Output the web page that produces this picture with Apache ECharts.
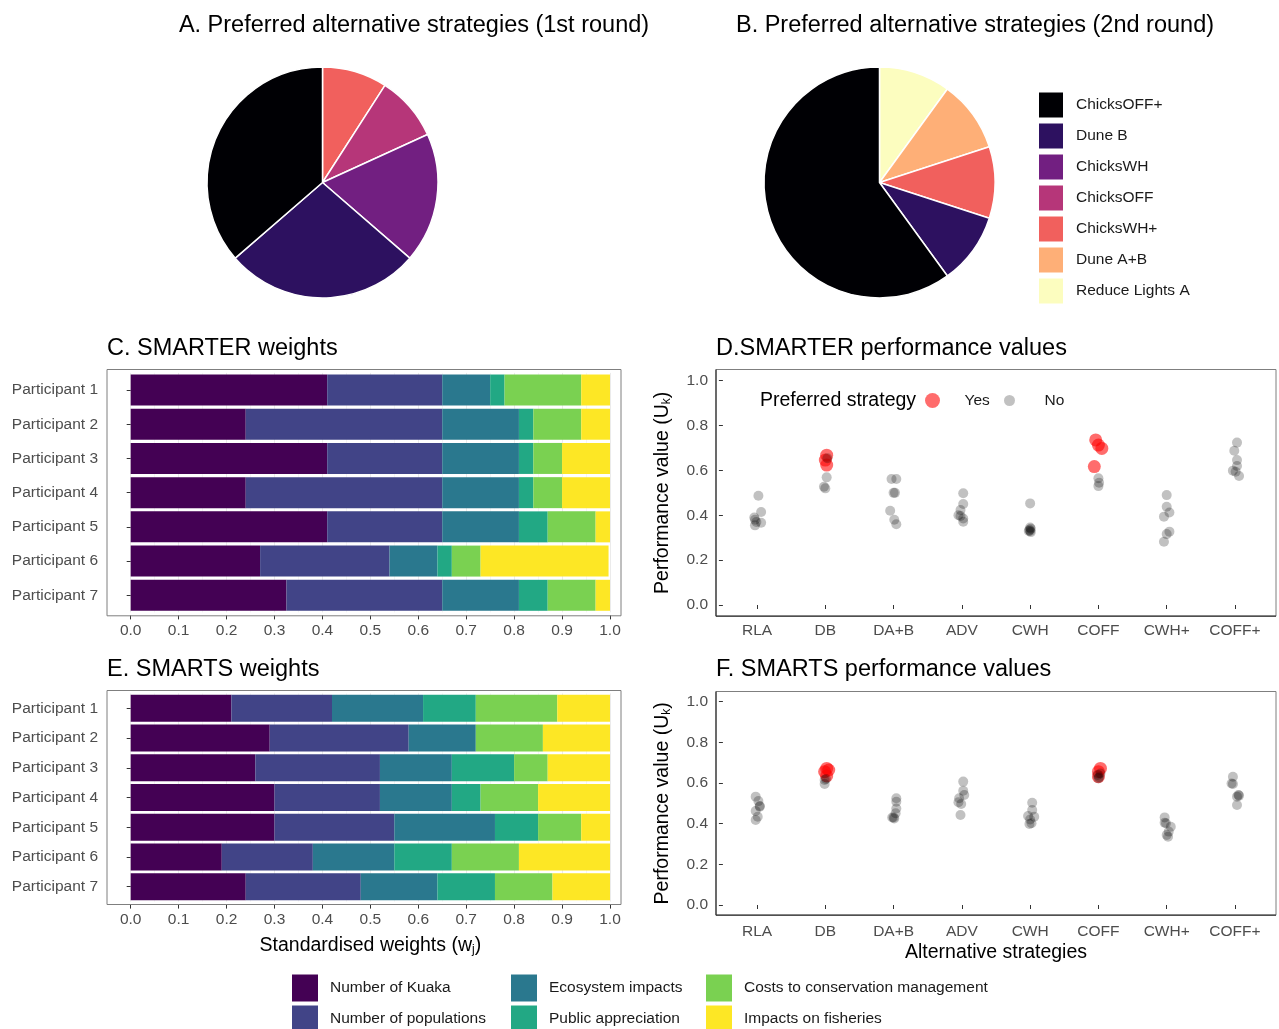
<!DOCTYPE html>
<html><head><meta charset="utf-8">
<script src="https://cdn.jsdelivr.net/npm/echarts@6/dist/echarts.min.js"></script>
<style>html,body{margin:0;padding:0;background:#fff}#c{width:1279px;height:1029px}</style>
</head><body><div id="c"></div>
<script>
// ---------- DATA ----------
const strategies = ['ChicksOFF+','Dune B','ChicksWH','ChicksOFF','ChicksWH+','Dune A+B','Reduce Lights A'];
const round1Names = ['ChicksWH+','ChicksOFF','ChicksWH','Dune B','ChicksOFF+'];
const round1Counts = [1,1,2,3,4];
const round2Names = ['Reduce Lights A','Dune A+B','ChicksWH+','Dune B','ChicksOFF+'];
const round2Counts = [1,1,1,1,6];

const participants = ['Participant 1','Participant 2','Participant 3','Participant 4','Participant 5','Participant 6','Participant 7'];
const criteria = ['Number of Kuaka','Number of populations','Ecosystem impacts','Public appreciation','Costs to conservation management','Impacts on fisheries'];

const smarterKuaka      = [0.41,0.24,0.41,0.24,0.41,0.27,0.325];
const smarterPopulations= [0.24,0.41,0.24,0.41,0.24,0.27,0.325];
const smarterEcosystem  = [0.10,0.16,0.16,0.16,0.16,0.10,0.16];
const smarterPublic     = [0.03,0.03,0.03,0.03,0.06,0.03,0.06];
const smarterCosts      = [0.16,0.10,0.06,0.06,0.10,0.06,0.10];
const smarterFisheries  = [0.06,0.06,0.10,0.10,0.03,0.267,0.03];

const smartsKuaka       = [0.21,0.29,0.26,0.30,0.30,0.19,0.24];
const smartsPopulations = [0.21,0.29,0.26,0.22,0.25,0.19,0.24];
const smartsEcosystem   = [0.19,0.14,0.15,0.15,0.21,0.17,0.16];
const smartsPublic      = [0.11,0.00,0.13,0.06,0.09,0.12,0.12];
const smartsCosts       = [0.17,0.14,0.07,0.12,0.09,0.14,0.12];
const smartsFisheries   = [0.11,0.14,0.13,0.15,0.06,0.19,0.12];

const strategyCodes = ['RLA','DB','DA+B','ADV','CWH','COFF','CWH+','COFF+'];

// [strategy, horizontal jitter (category units), performance value]
const smarterYes = [['DB',0.02,0.668],['DB',0,0.646],['DB',0.02,0.624],
  ['COFF',-0.04,0.736],['COFF',0,0.713],['COFF',0.05,0.698],['COFF',-0.06,0.617]];
const smarterNo = [
  ['RLA',0.02,0.487],['RLA',0.06,0.415],['RLA',-0.04,0.39],['RLA',-0.03,0.38],['RLA',-0.01,0.37],['RLA',0.06,0.367],['RLA',-0.03,0.355],
  ['DB',0.03,0.654],['DB',0.02,0.569],['DB',-0.02,0.527],['DB',0,0.52],
  ['DA+B',-0.03,0.562],['DA+B',0.04,0.562],['DA+B',0,0.50],['DA+B',0.02,0.50],['DA+B',-0.05,0.42],['DA+B',0.01,0.38],['DA+B',0.04,0.36],
  ['ADV',0.02,0.498],['ADV',0.02,0.45],['ADV',-0.02,0.423],['ADV',-0.05,0.40],['ADV',-0.02,0.397],['ADV',0.02,0.386],['ADV',0.02,0.371],
  ['CWH',0,0.453],['CWH',0,0.345],['CWH',0.01,0.34],['CWH',-0.01,0.335],['CWH',0,0.33],['CWH',-0.02,0.33],['CWH',0.01,0.325],
  ['COFF',0,0.565],['COFF',0.01,0.545],['COFF',0,0.53],
  ['CWH+',0,0.49],['CWH+',0,0.438],['CWH+',-0.04,0.394],['CWH+',0.04,0.412],['CWH+',0.04,0.327],['CWH+',0,0.316],['CWH+',-0.04,0.282],
  ['COFF+',0.03,0.724],['COFF+',-0.01,0.688],['COFF+',0.03,0.646],['COFF+',0.03,0.62],['COFF+',-0.03,0.599],['COFF+',0.01,0.594],['COFF+',0.06,0.575]];
const smartsYes = [['DB',0.02,0.672],['DB',-0.01,0.656],['DB',0.05,0.664],['DB',0.02,0.635],
  ['COFF',0.03,0.672],['COFF',0,0.656],['COFF',0,0.631]];
const smartsNo = [
  ['RLA',-0.02,0.533],['RLA',0.02,0.511],['RLA',0.04,0.487],['RLA',-0.02,0.462],['RLA',0.01,0.434],['RLA',-0.02,0.418],['RLA',0.04,0.484],
  ['DB',0.01,0.62],['DB',-0.01,0.615],['DB',-0.01,0.595],
  ['DA+B',0.04,0.525],['DA+B',0.04,0.508],['DA+B',0.04,0.475],['DA+B',0.03,0.451],['DA+B',-0.02,0.43],['DA+B',0,0.43],['DA+B',0.01,0.426],
  ['ADV',0.02,0.607],['ADV',0.02,0.562],['ADV',0.035,0.541],['ADV',-0.04,0.525],['ADV',-0.05,0.505],['ADV',-0.01,0.497],['ADV',-0.02,0.443],
  ['CWH',0.03,0.503],['CWH',0.03,0.467],['CWH',-0.03,0.438],['CWH',0.06,0.434],['CWH',0,0.421],['CWH',-0.01,0.398],['CWH',0.02,0.402],
  ['COFF',0.01,0.628],['COFF',-0.01,0.64],['COFF',0.03,0.647],['COFF',0,0.623],
  ['CWH+',-0.03,0.431],['CWH+',-0.03,0.405],['CWH+',0.06,0.385],['CWH+',0.03,0.361],['CWH+',0,0.344],['CWH+',0.02,0.336],['CWH+',-0.01,0.402],
  ['COFF+',-0.03,0.631],['COFF+',-0.03,0.595],['COFF+',-0.05,0.598],['COFF+',0.05,0.541],['COFF+',0.03,0.533],['COFF+',0.06,0.538],['COFF+',0.03,0.492]];

// ---------- STYLE ----------
const magma = ['#000004','#2D1160','#721F81','#B63679','#F1605D','#FEAF77','#FCFDBF'];
const viridis = ['#440154','#414487','#2A788E','#22A884','#7AD151','#FDE725'];
const FONT = "'Liberation Sans', Arial, Helvetica, sans-serif";
const TICK = '#4D4D4D';

const smarterSets = [smarterKuaka,smarterPopulations,smarterEcosystem,smarterPublic,smarterCosts,smarterFisheries];
const smartsSets = [smartsKuaka,smartsPopulations,smartsEcosystem,smartsPublic,smartsCosts,smartsFisheries];

function pieData(names, counts){
  return names.map((n,i)=>({name:n, value:counts[i], itemStyle:{color:magma[strategies.indexOf(n)]}}));
}
function pts(list){ return list.map(p=>[strategyCodes.indexOf(p[0])+0.5+p[1], p[2]]); }

const grids = [
  {left:130.7, top:372.9, width:479.3, height:239.5},   // C
  {left:722.9, top:380.7, width:546.2, height:224.3},   // D
  {left:130.7, top:693.4, width:479.3, height:208.2},   // E
  {left:722.9, top:701.7, width:546.2, height:203.3}    // F
].map(g=>Object.assign(g,{containLabel:false, outerBoundsMode:'none'}));

const tickStyle = {show:true, length:4, lineStyle:{color:'#333', width:1}};
const labStyle = (m)=>({color:TICK, fontSize:15.5, fontFamily:FONT, margin:m});

function weightX(gi, offset, name){
  return {type:'value', gridIndex:gi, min:0, max:1, interval:0.1, offset:offset,
    axisLine:{show:false}, axisTick:tickStyle,
    axisLabel:Object.assign(labStyle(7),{formatter:v=>v.toFixed(1)}),
    splitLine:{show:true, lineStyle:{color:'#EBEBEB', width:1}},
    minorTick:{show:false, splitNumber:2},
    minorSplitLine:{show:true, lineStyle:{color:'#F5F5F5', width:1}},
    name:name||'', nameLocation:'middle', nameGap:31,
    nameTextStyle:{color:'#000', fontSize:19.5, fontFamily:FONT,
      rich:{s:{fontSize:12, fontFamily:FONT, color:'#000', verticalAlign:'bottom', lineHeight:14}}}};
}
function partY(gi){
  return {type:'category', gridIndex:gi, data:participants, inverse:true, offset:23.7,
    axisLine:{show:false}, axisTick:Object.assign({alignWithLabel:true},tickStyle),
    axisLabel:labStyle(9), splitLine:{show:false}};
}
function catX(gi, offset, name){
  return {type:'category', gridIndex:gi, data:strategyCodes, offset:offset,
    axisLine:{show:false}, axisTick:Object.assign({alignWithLabel:true},tickStyle),
    axisLabel:labStyle(7), splitLine:{show:false},
    name:name||'', nameLocation:'middle', nameGap:26,
    nameTextStyle:{color:'#000', fontSize:19.5, fontFamily:FONT}};
}
function hiddenX(gi){ return {type:'value', gridIndex:gi, min:0, max:8, show:false}; }
function perfY(gi, offset){
  return {type:'value', gridIndex:gi, min:0, max:1, interval:0.2, offset:offset,
    axisLine:{show:false}, axisTick:tickStyle,
    axisLabel:Object.assign(labStyle(8),{formatter:v=>v.toFixed(1)}),
    splitLine:{show:false},
    name:'Performance value (U{s|k})', nameLocation:'middle', nameGap:43,
    nameTextStyle:{color:'#000', fontSize:19.5, fontFamily:FONT,
      rich:{s:{fontSize:12, fontFamily:FONT, color:'#000', verticalAlign:'bottom', lineHeight:14}}}};
}

const series = [];
criteria.forEach((c,i)=>{
  series.push({type:'bar', name:c, stack:'C', xAxisIndex:0, yAxisIndex:0, barWidth:31,
    itemStyle:{color:viridis[i]}, data:smarterSets[i], silent:true});
});
criteria.forEach((c,i)=>{
  series.push({type:'bar', name:c, stack:'E', xAxisIndex:3, yAxisIndex:2, barWidth:27,
    itemStyle:{color:viridis[i]}, data:smartsSets[i], silent:true});
});
const yesStyle = {color:'rgba(255,0,0,0.72)'};
const noStyle = {color:'rgba(0,0,0,0.3)'};
series.push({type:'scatter', name:'Yes', xAxisIndex:2, yAxisIndex:1, symbolSize:13, itemStyle:yesStyle, data:pts(smarterYes), silent:true});
series.push({type:'scatter', name:'No', xAxisIndex:2, yAxisIndex:1, symbolSize:10, itemStyle:noStyle, data:pts(smarterNo), silent:true});
series.push({type:'scatter', name:'Yes', xAxisIndex:5, yAxisIndex:3, symbolSize:13, itemStyle:yesStyle, data:pts(smartsYes), silent:true});
series.push({type:'scatter', name:'No', xAxisIndex:5, yAxisIndex:3, symbolSize:10, itemStyle:noStyle, data:pts(smartsNo), silent:true});

const pieBase = {type:'pie', radius:115.5, startAngle:90, clockwise:true, label:{show:false}, labelLine:{show:false},
  itemStyle:{borderColor:'#fff', borderWidth:1.5}, silent:true, emphasis:{disabled:true}};
series.push(Object.assign({}, pieBase, {name:'Round 1', center:[322.5,182.5], data:pieData(round1Names, round1Counts)}));
series.push(Object.assign({}, pieBase, {name:'Round 2', center:[879.5,182.5], data:pieData(round2Names, round2Counts)}));

const legText = {color:'#1a1a1a', fontSize:15.5, fontFamily:FONT, padding:[0,0,0,7]};
const squareLegend = (left, top, names) => ({orient:'vertical', left:left, top:top, padding:0,
  itemWidth:26, itemHeight:27, itemGap:2, icon:'rect', selectedMode:false, data:names,
  textStyle:legText});

const legendCols = [292, 511, 706];
const legendRows = [974.5, 1005.5];
const legends = [squareLegend(1037, 90.5, strategies)];
criteria.forEach((c,i)=>{
  legends.push(squareLegend(legendCols[Math.floor(i/2)], legendRows[i%2], [c]));
});
legends.push({left:925, top:392.5, padding:0, itemWidth:30, itemHeight:15, selectedMode:false,
    data:[{name:'Yes', icon:'circle'}], textStyle:Object.assign({}, legText, {padding:[0,0,0,12]})});
legends.push({left:1004, top:392.5, padding:0, itemWidth:30, itemHeight:11, selectedMode:false,
    data:[{name:'No', icon:'circle'}], textStyle:Object.assign({}, legText, {padding:[0,0,0,15]})});

function txt(x,y,s,size,align){
  return {type:'text', x:x, y:y, silent:true, z:10,
    style:{text:s, fill:'#000', font:`${size}px ${FONT}`, textAlign:align||'left', textVerticalAlign:'middle'}};
}
function box(x,y,w,h,dark){
  const els = [{type:'rect', shape:{x:x,y:y,width:w,height:h}, silent:true, z:5,
    style:{fill:null, stroke:'#7F7F7F', lineWidth:1}}];
  if(dark){
    els.push({type:'line', shape:{x1:x,y1:y,x2:x,y2:y+h}, silent:true, z:6, style:{stroke:'#333', lineWidth:1.2}});
    els.push({type:'line', shape:{x1:x,y1:y+h,x2:x+w,y2:y+h}, silent:true, z:6, style:{stroke:'#333', lineWidth:1.2}});
  }
  return els;
}

const graphic = [
  txt(414,26,'A. Preferred alternative strategies (1st round)',23.5,'center'),
  txt(975,26,'B. Preferred alternative strategies (2nd round)',23.5,'center'),
  txt(107,348.5,'C. SMARTER weights',23.5),
  txt(716,348.5,'D.SMARTER performance values',23.5),
  txt(107,670,'E. SMARTS weights',23.5),
  txt(716,670,'F. SMARTS performance values',23.5),
  txt(760,401,'Preferred strategy',19.5),
  ...box(107,369.5,514,246.3,false),
  ...box(107,690.5,514,214,false),
  ...box(716,369.5,560,246.7,true),
  ...box(716,691.5,560,223.7,true)
];

const option = {
  animation:false,
  backgroundColor:'#fff',
  textStyle:{fontFamily:FONT},
  grid:grids,
  xAxis:[weightX(0,3), catX(1,11.2), hiddenX(1), weightX(2,3,'Standardised weights (w{s|j})'), catX(3,11.3,'Alternative strategies'), hiddenX(3)],
  yAxis:[partY(0), perfY(1,6.9), partY(2), perfY(3,6.9)],
  legend:legends,
  series:series,
  graphic:graphic
};
const chart = echarts.init(document.getElementById('c'), null, {renderer:'canvas'});
chart.setOption(option);
</script>
</body></html>
